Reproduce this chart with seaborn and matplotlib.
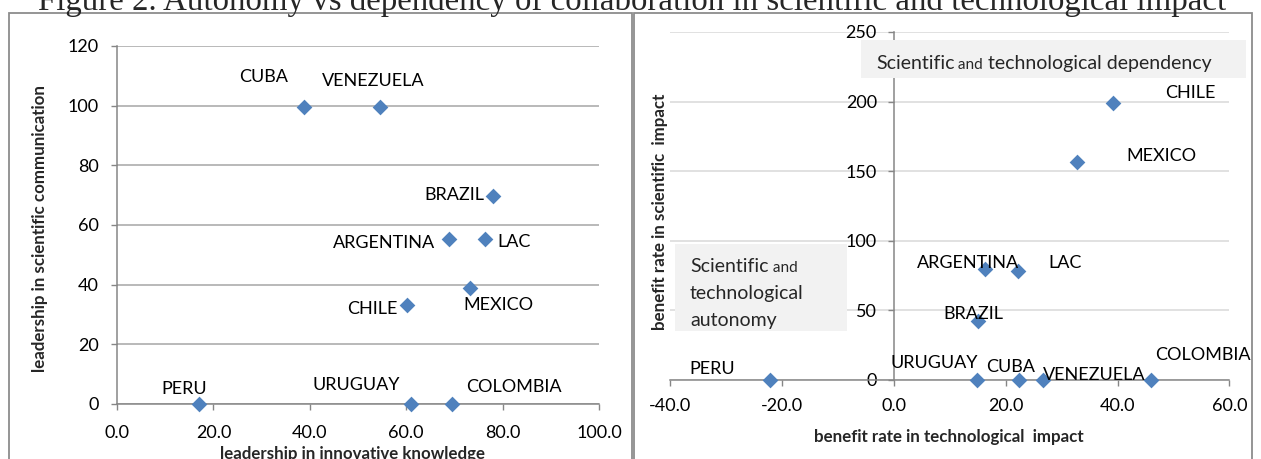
import numpy as np
import pandas as pd
import seaborn as sns
import matplotlib.pyplot as plt
from matplotlib.patches import Rectangle

W, H = 1261, 459

title = 'Figure 2. Autonomy vs dependency of collaboration in scientific and technological impact'

# left chart: leadership
left_countries = ['CUBA', 'VENEZUELA', 'BRAZIL', 'ARGENTINA', 'LAC', 'MEXICO', 'CHILE', 'PERU', 'URUGUAY', 'COLOMBIA']
innovative_knowledge = [38.8, 54.6, 78.1, 68.9, 76.4, 73.2, 60.1, 17.1, 61.0, 69.4]
scientific_communication = [99.5, 99.5, 69.7, 55.2, 55.4, 38.8, 33.1, 0.0, 0.0, 0.0]
left_xticks = [0, 20, 40, 60, 80, 100]
left_yticks = [0, 20, 40, 60, 80, 100, 120]

# right chart: benefit rates
right_countries = ['CHILE', 'MEXICO', 'ARGENTINA', 'LAC', 'BRAZIL', 'URUGUAY', 'CUBA', 'VENEZUELA', 'COLOMBIA', 'PERU']
technological_benefit = [39.2, 32.7, 16.2, 22.2, 15.1, 14.8, 22.3, 26.7, 45.9, -22.1]
scientific_benefit = [199.0, 156.8, 79.5, 78.5, 42.7, 0.0, 0.0, 0.0, 0.0, 0.0]
right_xticks = [-40, -20, 0, 20, 40, 60]
right_yticks = [0, 50, 100, 150, 200, 250]

# label offsets from marker, in pixels (x right, y down)
left_offsets = [(-40, -32), (-7, -28), (-39, -3), (-65, 2), (29, 2), (29, 15), (-34, 2), (-15, -17), (-55, -21), (62, -19)]
right_offsets = [(77, -11), (85, -7), (-17, -8), (47, -9), (-5, -8), (-42, -18), (-8, -15), (51, -7), (52, -27), (-58, -13)]

left_df = pd.DataFrame({'country': left_countries, 'x': innovative_knowledge, 'y': scientific_communication})
right_df = pd.DataFrame({'country': right_countries, 'x': technological_benefit, 'y': scientific_benefit})

sns.set_style('white')
plt.rcParams['font.family'] = ['Lato', 'DejaVu Sans']

BLUE = '#4f81bd'
AXIS = '#868686'
fig = plt.figure(figsize=(W / 100, H / 100), dpi=100)


def px_box(x0, x1, y0, y1):
    return [x0 / W, 1 - y1 / H, (x1 - x0) / W, (y1 - y0) / H]


def fig_text(x, y, s, **kw):
    return fig.text(x / W, 1 - y / H, s, **kw)


ax1 = fig.add_axes(px_box(117, 599, 46, 404))
ax2 = fig.add_axes(px_box(670.4, 1229.4, 32, 380))

for ax, df, offs, grid_col in [(ax1, left_df, left_offsets, '#a6a6a6'), (ax2, right_df, right_offsets, '#d9d9d9')]:
    sns.scatterplot(data=df, x='x', y='y', ax=ax, marker='D', s=64, color=BLUE,
                    edgecolor=BLUE, linewidth=0, zorder=5, clip_on=False)
    for name, xv, yv, (dx, dy) in zip(df['country'], df['x'], df['y'], offs):
        ax.annotate(name, (xv, yv), xytext=(dx, -(dy + 6.5)), textcoords='offset pixels',
                    ha='center', va='baseline', fontsize=13, color='black', zorder=6)
    ax.set_xlabel('')
    ax.set_ylabel('')
    ax.set_facecolor('none')
    ax.yaxis.grid(True, color=grid_col, lw=1.1)
    ax.set_axisbelow(True)
    for sp in ['top', 'right']:
        ax.spines[sp].set_visible(False)
    for sp in ['left', 'bottom']:
        ax.spines[sp].set_color(AXIS)
        ax.spines[sp].set_linewidth(1.1)
    ax.tick_params(axis='both', direction='out', length=4.3, width=1.0, color=AXIS,
                   labelsize=13, labelcolor='black', left=True, bottom=True)

ax1.set_xlim(0, 100)
ax1.set_ylim(0, 120)
ax1.set_xticks(left_xticks)
ax1.set_xticklabels([f'{v:.1f}' for v in left_xticks])
ax1.set_yticks(left_yticks)
ax1.set_yticklabels([str(v) for v in left_yticks])
ax1.tick_params(axis='y', pad=8.6)
ax1.tick_params(axis='x', pad=11.0)

ax2.set_xlim(-40, 60)
ax2.set_ylim(0, 250)
ax2.spines['left'].set_position(('data', 0))
ax2.set_xticks(right_xticks)
ax2.set_xticklabels([f'{v:.1f}' for v in right_xticks])
ax2.set_yticks(right_yticks)
ax2.set_yticklabels([str(v) for v in right_yticks])
ax2.tick_params(axis='y', pad=8.0)
ax2.tick_params(axis='x', pad=8.5)

# axis titles
lab = dict(fontsize=12.2, fontweight='bold', ha='center', va='center')
fig_text(352, 454, 'leadership in innovative knowledge', **lab)
fig_text(40, 228, 'leadership in scientific communication', rotation=90, **lab)
fig_text(949, 437, 'benefit rate in technological  impact', **lab)
fig_text(660, 212, 'benefit rate in scientific  impact', rotation=90, **lab)

# panel frames
for x0, x1 in [(9, 632), (634, 1252)]:
    fig.add_artist(Rectangle((x0 / W, -0.05), (x1 - x0) / W, 1.05 - 13 / H, transform=fig.transFigure,
                             facecolor='none', edgecolor='#8c8c8c', lw=1.3))

# quadrant boxes
for x0, x1, y0, y1 in [(861, 1246, 40, 78), (675, 847, 244, 331)]:
    fig.add_artist(Rectangle((x0 / W, 1 - y1 / H), (x1 - x0) / W, (y1 - y0) / H,
                             transform=fig.transFigure, facecolor='#f2f2f2', edgecolor='none', zorder=3))

renderer = fig.canvas.get_renderer()


def runs(x, y, parts):
    for txt, size in parts:
        t = fig_text(x, y, txt, fontsize=size, va='baseline', ha='left', zorder=4)
        x += t.get_window_extent(renderer).width


runs(876, 69, [('Scientific', 14), (' and', 11), (' technological dependency', 14)])
runs(690, 272, [('Scientific', 14), (' and', 11)])
runs(690, 299, [('technological', 14)])
runs(690, 326, [('autonomy', 14)])

# clipped figure title
t = fig_text(632, 10, title, family=['Liberation Serif', 'DejaVu Serif'], fontsize=20, ha='center', va='baseline')
w = t.get_window_extent(renderer).width
t.set_fontsize(20 * 1185 / w)

fig.savefig('out.png', dpi=100)
